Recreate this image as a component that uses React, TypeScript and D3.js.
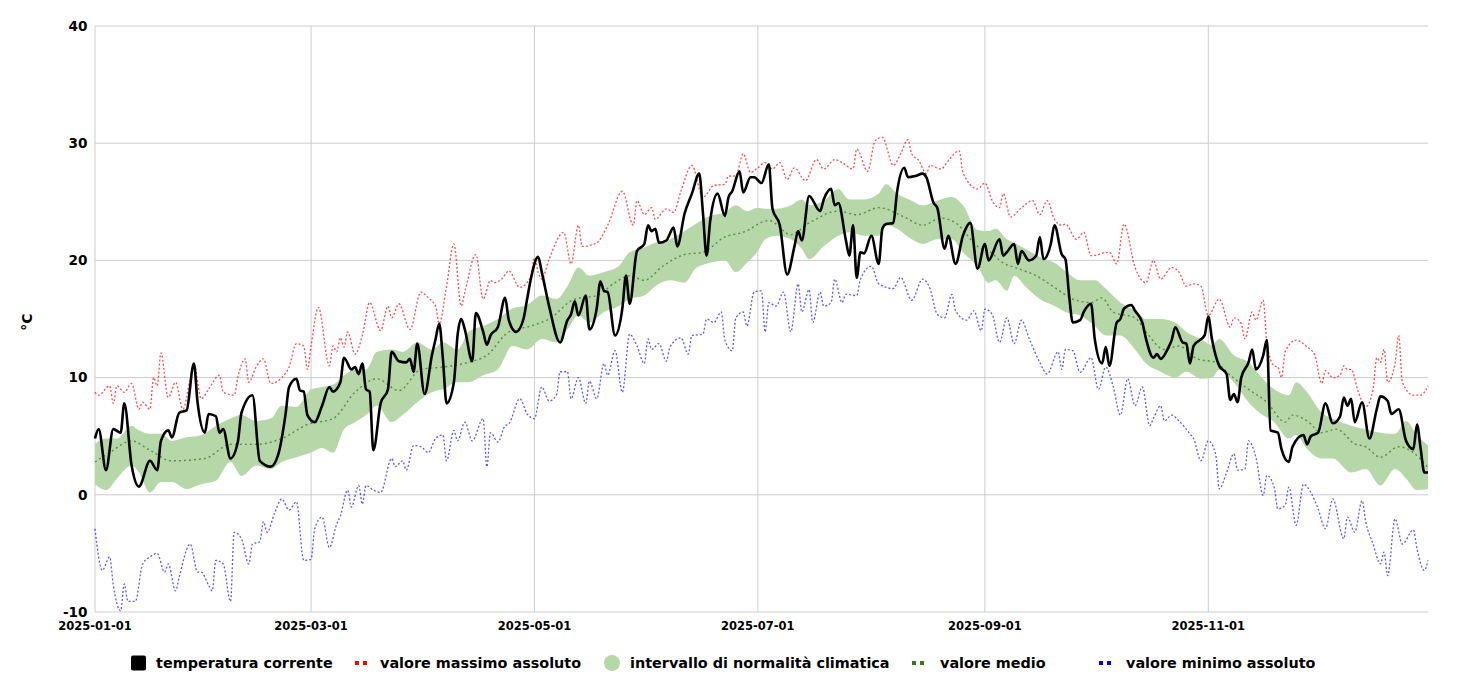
import React from 'react';
import * as d3 from 'd3';

const WIDTH = 1473;
const HEIGHT = 689;

const yearStart = '2025-01-01';
const yearEnd = '2025-12-31';
const xTickLabels = ['2025-01-01', '2025-03-01', '2025-05-01', '2025-07-01', '2025-09-01', '2025-11-01'];
const yTicks = [-10, 0, 10, 20, 30, 40];
const yLabel = '°C';

// [day of year (0 = 1 Jan), °C]
const tempCorrente: [number, number][] = [
  [0, 4.8], [1, 5.6], [3, 2.1], [5, 5.6], [7, 5.3], [8, 7.8], [10, 2.5], [12, 0.7], [15, 2.9], [17, 2.1], [18, 4.6], [20, 5.5],
  [21, 4.9], [23, 7.0], [25, 7.2], [27, 11.2], [28, 7.9], [30, 5.3], [31, 6.9], [33, 6.7], [34, 5.3], [35, 5.6], [37, 3.1],
  [39, 4.5], [40, 7.0], [43, 8.5], [45, 2.9], [48, 2.4], [50, 3.4], [52, 6.8], [53, 9.2], [55, 9.9], [56, 8.9], [57, 8.8],
  [58, 6.8], [60, 6.2], [62, 7.6], [64, 9.2], [65, 8.8], [67, 9.6], [68, 11.7], [70, 10.7], [71, 10.9], [72, 10.3], [73, 11.2],
  [74, 9.0], [75, 8.8], [76, 3.8], [78, 7.8], [80, 9.0], [81, 12.2], [83, 11.4], [85, 11.3], [86, 11.6], [87, 10.5], [88, 12.9],
  [90, 8.6], [92, 11.9], [93, 13.3], [94, 14.6], [95, 11.6], [96, 7.8], [98, 9.6], [99, 13.6], [100, 15.0], [101, 14.1],
  [103, 11.4], [104, 15.5], [106, 13.9], [107, 12.8], [108, 13.6], [110, 14.3], [112, 16.8], [113, 14.9], [115, 13.9],
  [117, 15.0], [118, 16.7], [119, 18.4], [121, 20.3], [122, 19.0], [124, 16.1], [127, 13.0], [129, 14.9], [130, 15.4],
  [131, 16.5], [132, 15.3], [134, 17.0], [135, 14.1], [137, 15.9], [138, 18.2], [139, 17.4], [140, 17.3], [142, 13.6],
  [144, 15.9], [145, 18.7], [146, 16.3], [148, 20.8], [150, 21.4], [151, 23.0], [152, 22.5], [153, 22.7], [154, 21.5],
  [156, 21.7], [158, 22.8], [159, 21.2], [161, 24.0], [163, 25.7], [165, 27.4], [166, 24.1], [167, 20.4], [168, 23.4],
  [170, 25.7], [172, 23.8], [173, 25.4], [174, 25.9], [176, 27.6], [177, 25.8], [179, 27.1], [180, 27.1], [182, 26.6],
  [184, 28.2], [185, 24.4], [187, 23.0], [189, 18.8], [191, 21.2], [192, 22.5], [193, 21.7], [195, 25.5], [198, 24.2],
  [199, 25.2], [201, 26.1], [202, 24.7], [203, 24.9], [205, 21.8], [206, 20.4], [207, 23.0], [208, 18.5], [209, 20.7],
  [210, 20.6], [212, 22.1], [214, 19.7], [215, 22.7], [216, 23.1], [218, 23.2], [219, 25.8], [221, 27.9], [222, 27.1],
  [224, 27.2], [226, 27.4], [227, 27.1], [229, 24.9], [230, 24.5], [232, 21.0], [233, 22.1], [235, 19.7], [237, 22.1],
  [239, 23.2], [241, 19.3], [243, 21.4], [244, 20.0], [247, 21.8], [248, 20.4], [249, 20.7], [251, 21.4], [252, 19.7],
  [253, 20.8], [255, 20.0], [257, 20.4], [258, 22.0], [259, 20.1], [261, 21.4], [262, 23.0], [264, 20.5], [265, 20.1],
  [266, 17.0], [267, 14.7], [269, 14.9], [270, 15.6], [272, 16.3], [273, 13.3], [275, 11.2], [276, 12.6], [277, 11.0],
  [279, 14.7], [280, 15.0], [281, 15.9], [283, 16.2], [284, 15.7], [286, 14.7], [287, 13.3], [289, 11.7], [290, 12.0],
  [291, 11.6], [293, 12.5], [294, 13.2], [295, 14.3], [297, 13.0], [298, 12.9], [299, 11.2], [300, 12.7], [303, 13.6],
  [304, 15.2], [305, 13.3], [307, 11.0], [309, 10.3], [310, 8.1], [311, 8.6], [312, 7.9], [313, 10.0], [315, 11.3],
  [316, 12.4], [317, 10.7], [319, 11.9], [320, 13.2], [321, 5.5], [323, 5.3], [324, 3.9], [326, 2.8], [327, 4.1],
  [330, 5.1], [331, 4.3], [332, 5.0], [334, 5.3], [336, 7.8], [338, 6.1], [340, 6.7], [341, 8.3], [342, 7.6], [343, 8.2],
  [344, 6.2], [346, 7.9], [348, 4.8], [350, 7.3], [351, 8.4], [353, 8.0], [354, 6.9], [356, 7.3], [358, 4.6], [360, 3.9],
  [361, 6.0], [362, 3.9], [363, 1.9], [364, 1.9],
];

const valoreMassimo: [number, number][] = [
  [0, 8.75], [1, 8.5], [4, 9.3], [5, 7.8], [6, 9.3], [8, 8.75], [10, 9.5], [12, 7.3], [13, 7.9], [15, 7.3], [16, 10.0],
  [17, 9.3], [18, 12.1], [20, 8.3], [22, 9.6], [24, 7.3], [26, 9.9], [27, 11.2], [29, 8.2], [31, 9.0], [34, 10.2], [35, 8.75],
  [38, 8.5], [39, 10.0], [41, 11.6], [42, 9.6], [44, 10.9], [46, 11.6], [48, 9.5], [51, 10.0], [53, 10.9], [55, 12.9],
  [57, 12.7], [58, 10.7], [59, 12.7], [61, 16.0], [64, 11.0], [65, 12.7], [66, 12.2], [67, 13.4], [68, 12.6], [69, 13.9],
  [71, 12.0], [73, 13.6], [75, 16.4], [78, 14.0], [80, 16.1], [81, 15.1], [83, 16.3], [86, 14.1], [89, 17.3], [91, 16.8],
  [93, 16.1], [94, 14.6], [96, 17.8], [98, 21.4], [100, 16.1], [101, 17.3], [104, 20.5], [106, 16.7], [108, 18.3],
  [109, 18.1], [111, 18.4], [113, 19.1], [116, 17.7], [119, 18.6], [120, 20.2], [121, 19.0], [122, 18.4], [124, 20.1],
  [128, 22.4], [130, 19.7], [132, 23.0], [133, 21.2], [137, 21.5], [140, 23.0], [144, 25.9], [147, 23.0], [148, 25.1],
  [150, 23.9], [152, 24.5], [153, 23.5], [156, 24.4], [158, 24.1], [160, 25.9], [163, 28.1], [166, 25.4], [169, 26.4],
  [172, 26.5], [173, 27.2], [175, 27.2], [177, 29.1], [179, 27.5], [181, 27.9], [183, 28.35], [185, 27.8], [187, 28.35],
  [189, 26.9], [191, 27.9], [194, 26.8], [197, 28.6], [199, 27.8], [202, 28.6], [204, 28.35], [207, 27.8], [208, 29.5],
  [211, 27.6], [213, 30.2], [215, 30.5], [218, 28.1], [220, 29.1], [222, 30.3], [223, 29.1], [225, 28.5], [227, 27.4],
  [228, 28.1], [231, 27.8], [233, 28.5], [236, 29.35], [237, 27.5], [241, 26.1], [243, 26.6], [245, 25.1], [247, 24.5],
  [248, 25.7], [250, 23.7], [253, 24.5], [256, 25.1], [258, 23.9], [260, 25.1], [262, 23.5], [264, 23.0], [265, 23.1],
  [268, 21.8], [270, 22.4], [272, 20.4], [277, 20.7], [279, 19.7], [281, 23.1], [284, 19.4], [287, 18.1], [289, 20.0],
  [291, 18.4], [294, 19.4], [296, 19.0], [298, 17.8], [300, 18.0], [302, 17.8], [304, 15.3], [307, 16.7], [310, 14.3],
  [311, 15.1], [313, 14.6], [314, 13.3], [316, 15.6], [317, 14.9], [319, 16.6], [320, 13.0], [322, 11.0], [323, 10.9],
  [324, 10.0], [325, 12.2], [328, 13.2], [331, 12.6], [333, 12.0], [335, 9.5], [336, 10.6], [338, 10.0], [340, 10.2],
  [341, 11.0], [342, 10.7], [343, 10.7], [345, 8.75], [347, 7.5], [349, 9.0], [350, 11.7], [351, 11.3], [352, 12.4],
  [353, 9.6], [355, 11.2], [356, 13.6], [357, 9.6], [360, 8.5], [362, 8.5], [364, 9.3],
];

const valoreMinimo: [number, number][] = [
  [0, -2.9], [2, -6.45], [4, -5.3], [5, -7.7], [7, -9.9], [8, -7.6], [9, -9.1], [11, -9.1], [13, -5.9], [15, -5.3],
  [17, -5.0], [19, -6.6], [20, -5.9], [22, -8.2], [23, -7.0], [26, -4.2], [28, -6.6], [29, -6.6], [31, -7.7], [32, -8.2],
  [33, -5.6], [35, -5.9], [37, -9.1], [38, -3.2], [40, -3.75], [42, -5.9], [43, -4.2], [45, -4.0], [46, -2.3], [47, -3.2],
  [49, -1.6], [51, -0.35], [53, -1.3], [55, -0.6], [57, -5.6], [59, -5.5], [60, -2.9], [62, -1.9], [64, -4.5], [66, -2.5],
  [67, -1.8], [69, 0.4], [70, -1.05], [72, 0.8], [73, -0.8], [74, 0.8], [76, 0.4], [78, 0.2], [81, 3.1], [82, 2.4],
  [84, 2.9], [85, 2.1], [87, 4.2], [89, 4.1], [91, 3.6], [93, 4.8], [95, 5.1], [96, 2.9], [98, 5.5], [99, 4.6], [101, 6.2],
  [103, 4.6], [106, 6.5], [107, 2.4], [108, 5.3], [110, 4.5], [112, 5.9], [113, 6.05], [116, 8.2], [118, 6.9], [120, 6.5],
  [122, 9.2], [124, 8.0], [126, 8.5], [127, 10.5], [129, 10.5], [130, 8.2], [132, 10.0], [134, 7.8], [135, 9.7], [137, 8.2],
  [139, 11.2], [140, 10.2], [142, 12.3], [144, 8.75], [146, 13.7], [148, 12.7], [150, 11.2], [151, 13.3], [152, 12.4],
  [154, 12.9], [156, 11.4], [157, 12.6], [160, 13.4], [162, 12.0], [163, 13.6], [166, 13.7], [167, 15.0], [169, 14.7],
  [171, 15.6], [172, 13.2], [174, 12.3], [175, 15.1], [177, 15.6], [178, 14.4], [180, 17.3], [182, 17.4], [183, 13.9],
  [184, 16.4], [186, 16.1], [188, 17.3], [190, 13.9], [192, 18.0], [193, 15.6], [195, 17.5], [196, 14.7], [198, 17.3],
  [199, 16.1], [201, 16.4], [202, 18.4], [204, 16.4], [205, 17.1], [208, 17.0], [209, 18.4], [212, 19.5], [214, 18.0],
  [218, 17.6], [220, 18.55], [223, 16.6], [226, 18.4], [228, 17.6], [230, 15.4], [232, 15.1], [234, 17.1], [235, 15.7],
  [238, 14.9], [240, 15.7], [242, 14.0], [243, 15.85], [245, 15.4], [247, 13.0], [249, 15.1], [251, 12.9], [253, 14.9],
  [255, 13.4], [258, 11.3], [260, 10.3], [263, 12.2], [264, 10.7], [265, 12.4], [267, 12.3], [269, 10.45], [272, 11.7],
  [274, 9.0], [276, 10.9], [278, 9.3], [280, 6.8], [282, 9.9], [284, 7.6], [286, 9.2], [288, 5.9], [289, 6.5], [291, 7.6],
  [292, 6.3], [294, 6.8], [296, 6.3], [299, 5.2], [300, 4.8], [302, 2.9], [304, 4.6], [306, 3.5], [307, 0.5], [309, 1.9],
  [311, 3.5], [312, 2.1], [314, 2.2], [315, 4.6], [317, 3.2], [319, -0.05], [320, 1.65], [322, 0.65], [323, -1.2],
  [325, -0.9], [326, 0.65], [328, -2.6], [330, 0.9], [332, 0.2], [334, -1.2], [336, -2.9], [338, -0.35], [341, -3.75],
  [342, -1.9], [344, -3.2], [346, -0.5], [347, -2.3], [349, -4.2], [351, -5.9], [352, -4.9], [353, -6.9], [355, -2.05],
  [357, -4.2], [360, -3.0], [361, -4.6], [363, -6.45], [364, -5.6],
];

const valoreMedio: [number, number][] = [
  [0, 2.8], [4, 3.6], [10, 4.6], [15, 3.8], [21, 2.9], [30, 3.1], [37, 4.3], [44, 4.3], [51, 4.8], [58, 6.0], [65, 6.5],
  [71, 8.75], [77, 9.9], [83, 8.9], [89, 10.7], [95, 10.9], [102, 11.3], [107, 11.9], [113, 13.9], [119, 14.4], [124, 15.0],
  [131, 16.7], [137, 17.0], [142, 18.1], [146, 18.7], [150, 18.3], [155, 19.5], [161, 20.5], [166, 20.7], [172, 22.0],
  [177, 22.4], [184, 23.4], [190, 22.2], [195, 23.2], [203, 24.2], [208, 23.9], [214, 24.5], [221, 23.7], [226, 23.0],
  [231, 23.6], [235, 23.2], [241, 21.2], [245, 20.6], [247, 20.0], [252, 19.3], [257, 18.7], [262, 17.7], [267, 16.7],
  [272, 16.4], [275, 16.8], [278, 15.6], [284, 15.1], [287, 13.9], [292, 12.4], [296, 12.7], [301, 11.6], [306, 11.3],
  [310, 10.2], [315, 9.0], [320, 7.9], [325, 6.2], [327, 6.8], [331, 6.3], [335, 5.3], [339, 5.6], [344, 4.35], [347, 4.1],
  [351, 3.2], [356, 4.1], [360, 3.6], [364, 2.3],
];

// intervallo di normalità climatica
const bandDays: number[] = [
  0, 3, 6, 10, 12, 15, 18, 21, 25, 29, 33, 37, 40, 44, 48, 51, 55, 59, 62, 65, 68, 71, 74, 77, 81, 84, 88, 92, 95, 99, 102,
  106, 110, 114, 118, 122, 126, 129, 132, 135, 139, 143, 146, 150, 153, 157, 161, 164, 168, 172, 175, 178, 181, 183, 186,
  190, 193, 195, 199, 203, 206, 210, 214, 216, 219, 223, 226, 230, 234, 237, 241, 244, 246, 249, 251, 254, 258, 262, 265,
  269, 273, 276, 280, 284, 287, 291, 295, 298, 302, 305, 307, 311, 315, 318, 322, 326, 328, 331, 335, 338, 343, 347, 351,
  355, 358, 361, 364,
];
const bandHigh: number[] = [
  4.35, 4.8, 4.8, 5.9, 5.5, 5.2, 5.2, 4.6, 4.9, 5.1, 5.9, 6.5, 6.8, 6.3, 6.5, 7.6, 7.5, 9.0, 9.2, 9.4, 10.2, 10.7, 10.7,
  12.2, 12.4, 12.2, 13.0, 12.4, 13.0, 12.4, 13.9, 14.4, 15.0, 15.9, 16.2, 17.0, 16.7, 17.8, 19.4, 18.7, 19.0, 19.5, 20.7,
  21.1, 21.5, 21.8, 22.5, 23.1, 23.8, 24.1, 24.7, 24.2, 24.5, 24.4, 24.4, 24.7, 25.2, 24.7, 25.1, 26.1, 25.2, 25.2, 25.7,
  26.5, 25.7, 25.1, 24.7, 25.1, 25.4, 24.7, 22.6, 22.5, 22.7, 21.8, 21.5, 21.0, 20.3, 19.8, 19.1, 18.3, 18.3, 17.6, 16.4,
  15.7, 15.0, 15.0, 14.7, 13.9, 13.3, 12.8, 13.3, 11.9, 11.3, 10.2, 9.0, 8.5, 9.6, 8.75, 7.0, 6.5, 5.9, 5.6, 5.3, 5.2,
  6.3, 5.1, 4.2,
];
const bandLow: number[] = [
  0.9, 0.4, 1.4, 2.5, 1.9, 0.2, 1.1, 1.1, 0.5, 0.9, 1.2, 2.8, 1.6, 2.5, 2.2, 2.8, 3.2, 3.6, 4.0, 3.6, 5.6, 6.2, 6.8, 7.6,
  6.2, 6.8, 7.9, 8.75, 9.0, 9.6, 9.6, 10.2, 10.7, 12.7, 12.4, 13.3, 13.0, 14.1, 15.3, 14.7, 15.6, 16.1, 16.7, 17.0, 17.8,
  18.3, 18.1, 19.3, 19.8, 20.0, 19.0, 19.8, 20.8, 21.8, 22.1, 21.8, 21.0, 20.1, 21.2, 22.1, 22.4, 22.1, 22.1, 23.0, 22.7,
  21.8, 21.4, 21.8, 21.8, 20.7, 19.5, 18.1, 18.3, 17.4, 18.7, 17.8, 16.7, 16.1, 15.6, 15.3, 14.4, 13.6, 13.6, 12.4, 11.2,
  10.5, 10.0, 10.5, 9.9, 10.0, 10.7, 9.6, 7.9, 7.0, 6.2, 4.8, 5.1, 3.9, 3.1, 3.1, 1.9, 2.2, 0.8, 2.2, 1.4, 0.4, 0.5,
];

const legendLabels = [
  'temperatura corrente',
  'valore massimo assoluto',
  'intervallo di normalità climatica',
  'valore medio',
  'valore minimo assoluto',
];

const FONT = '"DejaVu Sans", Verdana, sans-serif';

export default function App() {
  const start = new Date(yearStart + 'T00:00:00Z');
  const end = new Date(yearEnd + 'T00:00:00Z');
  const toDate = (d: number) => d3.utcDay.offset(start, d);

  const x = d3.scaleUtc().domain([start, end]).range([95, 1428]);
  const y = d3.scaleLinear().domain([-10, 40]).range([612, 26]);

  const line = d3
    .line<[number, number]>()
    .x((d) => x(toDate(d[0])))
    .y((d) => y(d[1]))
    .curve(d3.curveMonotoneX);

  const bandData = bandDays.map((d, i) => ({ d, lo: bandLow[i], hi: bandHigh[i] }));
  const area = d3
    .area<{ d: number; lo: number; hi: number }>()
    .x((p) => x(toDate(p.d)))
    .y0((p) => y(p.lo))
    .y1((p) => y(p.hi))
    .curve(d3.curveMonotoneX);

  const xTicks = xTickLabels.map((s) => new Date(s + 'T00:00:00Z'));
  const fmt = d3.utcFormat('%Y-%m-%d');

  const legendY = 663;

  return (
    <svg
      width={WIDTH}
      height={HEIGHT}
      style={{ position: 'absolute', left: 0, top: 0, background: '#fff' }}
      fontFamily={FONT}
    >
      <rect x={0} y={0} width={WIDTH} height={HEIGHT} fill="#fff" />
      {/* grid */}
      {yTicks.map((t) => (
        <line key={'gy' + t} x1={x(start)} x2={x(end)} y1={y(t)} y2={y(t)} stroke="#cccccc" strokeWidth={1} />
      ))}
      {xTicks.map((t) => (
        <line key={'gx' + +t} x1={x(t)} x2={x(t)} y1={y(40)} y2={y(-10)} stroke="#cccccc" strokeWidth={1} />
      ))}

      {/* band */}
      <path d={area(bandData) || ''} fill="#b6d7a8" stroke="none" />
      {/* mean */}
      <path d={line(valoreMedio) || ''} fill="none" stroke="rgba(56,118,29,0.75)" strokeWidth={1.4} strokeDasharray="2,3" />
      {/* max */}
      <path d={line(valoreMassimo) || ''} fill="none" stroke="rgba(255,0,0,0.7)" strokeWidth={1.3} strokeDasharray="2,2" />
      {/* min */}
      <path d={line(valoreMinimo) || ''} fill="none" stroke="rgba(0,0,255,0.65)" strokeWidth={1.3} strokeDasharray="2,2" />
      {/* current */}
      <path d={line(tempCorrente) || ''} fill="none" stroke="#000" strokeWidth={2.6} strokeLinejoin="round" />

      {/* y tick labels */}
      {yTicks.map((t) => (
        <text key={'ty' + t} x={87.5} y={y(t)} dy="0.36em" textAnchor="end" fontSize={13.6} fontWeight="bold" fill="#000">
          {t}
        </text>
      ))}
      {/* x tick labels */}
      {xTicks.map((t) => (
        <text key={'tx' + +t} x={x(t)} y={629.5} textAnchor="middle" fontSize={11.5} fontWeight="bold" fill="#000">
          {fmt(t)}
        </text>
      ))}
      {/* y axis title */}
      <text transform="translate(32,322) rotate(-90)" textAnchor="middle" fontSize={14} fontWeight="bold" fill="#000">
        {yLabel}
      </text>

      {/* legend */}
      <g fontSize={14.4} fontWeight="bold" fill="#000">
        <rect x={131} y={legendY - 7.5} width={15} height={15} rx={2} fill="#000" />
        <text x={156} y={legendY} dy="0.35em">{legendLabels[0]}</text>

        <rect x={355} y={legendY - 2} width={4} height={4} fill="#ff0000" />
        <rect x={363} y={legendY - 2} width={4} height={4} fill="#ff0000" />
        <text x={380} y={legendY} dy="0.35em">{legendLabels[1]}</text>

        <circle cx={612} cy={legendY} r={8} fill="#b6d7a8" />
        <text x={630} y={legendY} dy="0.35em">{legendLabels[2]}</text>

        <rect x={912} y={legendY - 2} width={4} height={4} fill="#38761d" />
        <rect x={920} y={legendY - 2} width={4} height={4} fill="#38761d" />
        <text x={940} y={legendY} dy="0.35em">{legendLabels[3]}</text>

        <rect x={1099} y={legendY - 2} width={4} height={4} fill="#0000ff" />
        <rect x={1107} y={legendY - 2} width={4} height={4} fill="#0000ff" />
        <text x={1126} y={legendY} dy="0.35em">{legendLabels[4]}</text>
      </g>
    </svg>
  );
}
